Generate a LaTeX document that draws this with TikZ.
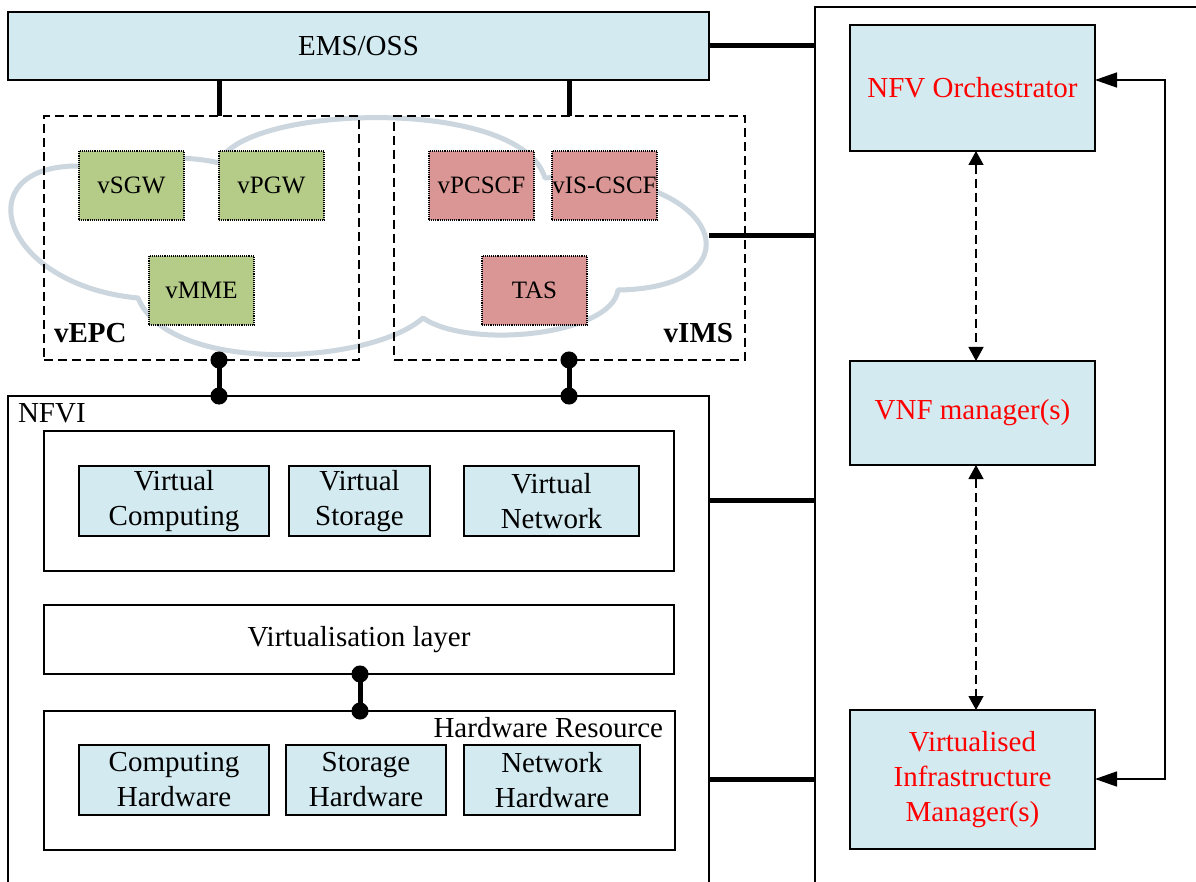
\documentclass[tikz,border=0pt]{standalone}
\usepackage{fontspec}
\setmainfont{Liberation Serif}
\usetikzlibrary{arrows.meta}
\definecolor{boxblue}{RGB}{210,234,240}
\definecolor{epcgreen}{RGB}{181,203,136}
\definecolor{imsred}{RGB}{217,150,148}
\definecolor{cloudgrey}{RGB}{204,214,222}
\begin{document}
\begin{tikzpicture}[x=1pt,y=-1pt,
  every node/.style={font=\fontsize{29}{35}\selectfont, inner sep=0pt, outer sep=0pt},
  plainbox/.style={draw, line width=1.3pt, anchor=north west, align=center},
  bluebox/.style={plainbox, fill=boxblue},
  mgmtbox/.style={bluebox, text=red},
  vnfbox/.style={draw, densely dotted, line width=1.1pt, anchor=north west,
    minimum width=105, minimum height=69, font=\fontsize{25}{30}\selectfont},
  epcbox/.style={vnfbox, fill=epcgreen},
  imsbox/.style={vnfbox, fill=imsred},
  groupbox/.style={draw, dash pattern=on 9pt off 5pt, line width=1.3pt, anchor=north west},
  link/.style={line width=5pt},
  dumbbell/.style={line width=5pt, {Circle[length=17pt]}-{Circle[length=17pt]},
    shorten <=-8.5pt, shorten >=-8.5pt},
  ctl/.style={line width=1.3pt, dash pattern=on 9pt off 5pt,
    {Triangle[length=14pt,width=15pt]}-{Triangle[length=14pt,width=15pt]}},
  loopline/.style={line width=1.5pt,
    {Triangle[length=22pt,width=15pt]}-{Triangle[length=22pt,width=15pt]}},
]
\useasboundingbox (0,0) rectangle (1196,882);
\fill[white] (0,0) rectangle (1196,882);
\clip (0,0) rectangle (1196,882);

% management column
\node[plainbox, minimum width=420, minimum height=900] (panel) at (815,7) {};
\node[mgmtbox, minimum width=245, minimum height=126] (orch) at (850,25) {NFV Orchestrator};
\node[mgmtbox, minimum width=245, minimum height=104] (vnfm) at (850,361) {VNF manager(s)};
\node[mgmtbox, minimum width=245, minimum height=139] (vim) at (850,710)
  {Virtualised\\Infrastructure\\Manager(s)};

% EMS / OSS
\node[bluebox, minimum width=701, minimum height=68] (ems) at (8,12) {EMS/OSS};

% cloud behind the VNF groups
\draw[cloudgrey, line width=5pt, line join=round]
  (219,163) .. controls (240,105) and (520,95) .. (545,178)
  .. controls (720,165) and (765,288) .. (618,290)
  .. controls (612,335) and (470,350) .. (423,318)
  .. controls (370,365) and (170,375) .. (138,298)
  .. controls (0,285) and (-35,165) .. (79,166)
  .. controls (110,155) and (190,155) .. (219,163) -- cycle;

% VNF groups
\node[groupbox, minimum width=315, minimum height=244] (vepc) at (44,116) {};
\node[groupbox, minimum width=351, minimum height=244] (vims) at (394,116) {};
\node[anchor=base west, font=\fontsize{29}{35}\selectfont\bfseries] (vepclab) at (54,342) {vEPC};
\node[anchor=base east, font=\fontsize{29}{35}\selectfont\bfseries] (vimslab) at (733,342) {vIMS};

\node[epcbox] (vsgw) at (79,151) {vSGW};
\node[epcbox] (vpgw) at (219,151) {vPGW};
\node[epcbox] (vmme) at (149,256) {vMME};
\node[imsbox] (vpcscf) at (429,151) {vPCSCF};
\node[imsbox] (viscscf) at (552,151) {vIS-CSCF};
\node[imsbox] (tas) at (482,256) {TAS};

% NFVI
\node[plainbox, minimum width=701, minimum height=520] (nfvi) at (8,396) {};
\node[anchor=base west] (nfvilab) at (18,422) {NFVI};

\node[plainbox, minimum width=630, minimum height=140] (vres) at (44,431) {};
\node[bluebox, minimum width=190, minimum height=70] (vcomp) at (79,466) {Virtual\\Computing};
\node[bluebox, minimum width=141, minimum height=70] (vstor) at (289,466) {Virtual\\Storage};
\node[bluebox, minimum width=175, minimum height=70] (vnet) at (464,466) {Virtual\\Network};

\node[plainbox, minimum width=630, minimum height=69] (vlayer) at (44,605) {Virtualisation layer};

\node[plainbox, minimum width=631, minimum height=139] (hwres) at (44,711) {};
\node[anchor=base east] (hwlab) at (663,737) {Hardware Resource};
\node[bluebox, minimum width=190, minimum height=70] (hcomp) at (79,745) {Computing\\Hardware};
\node[bluebox, minimum width=160, minimum height=70] (hstor) at (286,745) {Storage\\Hardware};
\node[bluebox, minimum width=176, minimum height=70] (hnet) at (464,745) {Network\\Hardware};

% connector positions
\coordinate (epcx) at (219,0);
\coordinate (imsx) at (569,0);
\coordinate (hwx) at (360,0);
\coordinate (ctlx) at (976,0);
\coordinate (cloudr) at (709,236);
\coordinate (nfvirow) at (0,500);
\coordinate (hwrow) at (0,779);
\coordinate (loopt) at (1165,80);
\coordinate (loopb) at (1165,779);

% reference points
\draw[link] (ems.south -| epcx) -- (vepc.north -| epcx);
\draw[link] (ems.south -| imsx) -- (vims.north -| imsx);
\draw[link] (ems.east) -- (ems.east -| panel.west);
\draw[link] (cloudr) -- (cloudr -| panel.west);
\draw[link] (nfvi.east |- nfvirow) -- (panel.west |- nfvirow);
\draw[link] (nfvi.east |- hwrow) -- (panel.west |- hwrow);

\draw[dumbbell] (vepc.south -| epcx) -- (nfvi.north -| epcx);
\draw[dumbbell] (vims.south -| imsx) -- (nfvi.north -| imsx);
\draw[dumbbell] (vlayer.south -| hwx) -- (hwres.north -| hwx);

% management interfaces
\draw[ctl] (orch.south -| ctlx) -- (vnfm.north -| ctlx);
\draw[ctl] (vnfm.south -| ctlx) -- (vim.north -| ctlx);
\draw[loopline] (orch.east |- loopt) -- (loopt) -- (loopb) -- (vim.east |- loopb);
\end{tikzpicture}
\end{document}
